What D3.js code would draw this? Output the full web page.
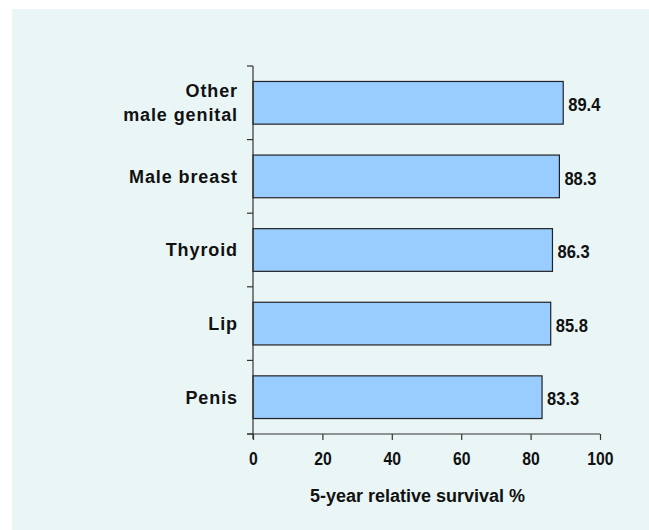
<!DOCTYPE html>
<html>
<head>
<meta charset="utf-8">
<script src="https://cdn.jsdelivr.net/npm/d3@7"></script>
<style>
  body { margin: 0; background: #fff; }
  svg { display: block; font-family: "Liberation Sans", Arial, sans-serif; }
</style>
</head>
<body>
<div id="chart"></div>
<script>
// data, top to bottom
const categories = [['Other', 'male genital'], ['Male breast'], ['Thyroid'], ['Lip'], ['Penis']]
const survival = [89.4, 88.3, 86.3, 85.8, 83.3]
const xTicks = [0, 20, 40, 60, 80, 100]
const xTitle = '5-year relative survival %'

const W = 649, H = 530
const margin = { top: 66, right: 49, bottom: 96, left: 253 }

const svg = d3.select('#chart').append('svg')
  .attr('width', W)
  .attr('height', H)

// panel background
svg.append('rect')
  .attr('x', 12).attr('y', 9)
  .attr('width', W - 12).attr('height', H - 9)
  .attr('fill', '#eaf6f6')

const x = d3.scaleLinear()
  .domain([0, 100])
  .range([margin.left, W - margin.right])

const y = d3.scaleBand()
  .domain(d3.range(categories.length))
  .range([margin.top, H - margin.bottom])
  .paddingInner(0.42)
  .paddingOuter(0.21)

const axisColor = '#333'

// bars
svg.append('g').selectAll('rect')
  .data(survival)
  .enter()
  .append('rect')
  .attr('x', x(0))
  .attr('y', (d, i) => y(i))
  .attr('width', d => x(d) - x(0))
  .attr('height', y.bandwidth())
  .attr('fill', '#99ccff')
  .attr('stroke', '#222')
  .attr('stroke-width', 1.2)

// value labels (the source font is a bit condensed)
svg.append('g').selectAll('text')
  .data(survival)
  .enter()
  .append('text')
  .attr('transform', (d, i) => 'translate(' + (x(d) + 5) + ',' + (y(i) + y.bandwidth() / 2 + 1.5) + ') scale(0.87,1)')
  .attr('dy', '0.35em')
  .attr('font-size', 19)
  .attr('font-weight', 'bold')
  .attr('fill', '#111')
  .text(d => d.toFixed(1))

// y axis: line plus ticks on band edges
const yTop = margin.top, yBot = H - margin.bottom
const yEdges = d3.range(categories.length + 1).map(i => yTop + i * (yBot - yTop) / categories.length)
const yAxisG = svg.append('g')
yAxisG.append('line')
  .attr('x1', x(0)).attr('x2', x(0))
  .attr('y1', yTop).attr('y2', yBot + 5)
  .attr('stroke', axisColor).attr('stroke-width', 1.2)
yAxisG.selectAll('.ytick')
  .data(yEdges)
  .enter()
  .append('line')
  .attr('class', 'ytick')
  .attr('x1', x(0) - 6).attr('x2', x(0))
  .attr('y1', d => d).attr('y2', d => d)
  .attr('stroke', axisColor).attr('stroke-width', 1.2)

// category labels
yAxisG.selectAll('.ylab')
  .data(categories)
  .enter()
  .append('text')
  .attr('class', 'ylab')
  .attr('text-anchor', 'end')
  .attr('font-size', 18)
  .attr('font-weight', 'bold')
  .attr('letter-spacing', 0.9)
  .attr('fill', '#111')
  .each(function (d, i) {
    const cy = y(i) + y.bandwidth() / 2
    const lh = 24
    d.forEach((line, k) => {
      d3.select(this).append('tspan')
        .attr('x', x(0) - 15)
        .attr('y', cy + (k - (d.length - 1) / 2) * lh)
        .attr('dy', '0.35em')
        .text(line)
    })
  })

// x axis
const xAxis = d3.axisBottom(x)
  .tickValues(xTicks)
  .tickSize(6)
  .tickPadding(13)
  .tickFormat(d3.format('d'))
const xAxisG = svg.append('g')
  .attr('transform', 'translate(0,' + yBot + ')')
  .call(xAxis)
xAxisG.select('.domain').remove()
xAxisG.append('line')
  .attr('x1', x(0) - 6).attr('x2', x(100))
  .attr('y1', 0).attr('y2', 0)
  .attr('stroke', axisColor).attr('stroke-width', 1.2)
xAxisG.selectAll('.tick line')
  .attr('stroke', axisColor).attr('stroke-width', 1.2)
xAxisG.selectAll('.tick text')
  .attr('font-size', 17.5)
  .attr('font-weight', 'bold')
  .attr('fill', '#111')
  .attr('font-family', '"Liberation Sans", Arial, sans-serif')
  .attr('transform', 'scale(0.9,1)')

// axis title
svg.append('text')
  .attr('x', (x(0) + x(100)) / 2 - 9)
  .attr('y', 495.5)
  .attr('dy', '0.35em')
  .attr('text-anchor', 'middle')
  .attr('font-size', 18)
  .attr('font-weight', 'bold')
  .attr('fill', '#111')
  .text(xTitle)
</script>
</body>
</html>
